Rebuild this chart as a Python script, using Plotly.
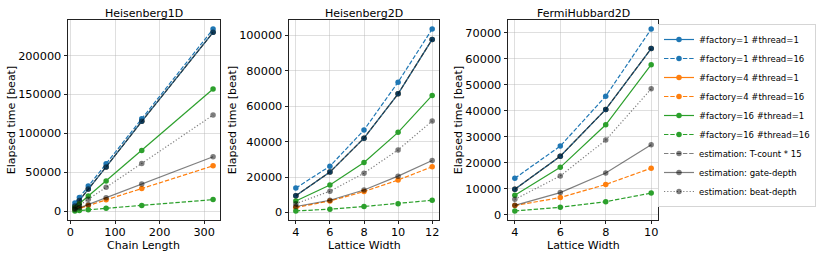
import plotly.graph_objects as go

# ---------------- data ----------------
panel_titles = ["Heisenberg1D", "Heisenberg2D", "FermiHubbard2D"]
x_titles = ["Chain Length", "Lattice Width", "Lattice Width"]

h1d_x = [10, 20, 40, 80, 160, 320]
h1d_f1_t1 = [6800, 13800, 28500, 57000, 115500, 229900]
h1d_f1_t16 = [10500, 17800, 32500, 61000, 118800, 234000]
h1d_f4_t1 = [6800, 13800, 28500, 57000, 115500, 229900]
h1d_f4_t16 = [1900, 3700, 7400, 14700, 29300, 58400]
h1d_f16_t1 = [4900, 9800, 19500, 39000, 78000, 157000]
h1d_f16_t16 = [500, 1000, 1900, 3800, 7600, 15000]
h1d_tcount15 = [6800, 13800, 28500, 57000, 115500, 229900]
h1d_gate = [2200, 4400, 8800, 17500, 35000, 70000]
h1d_beat = [3900, 7700, 15400, 30800, 61500, 123600]

h2d_x = [4, 6, 8, 10, 12]
h2d_f1_t1 = [9500, 22800, 41900, 66900, 97600]
h2d_f1_t16 = [13800, 26100, 46500, 73500, 103400]
h2d_f4_t1 = [9500, 22800, 41900, 66900, 97600]
h2d_f4_t16 = [2800, 6500, 11800, 18300, 25800]
h2d_f16_t1 = [6500, 15500, 28200, 45200, 66000]
h2d_f16_t16 = [900, 1850, 3400, 5000, 6900]
h2d_tcount15 = [9500, 22800, 41900, 66900, 97600]
h2d_gate = [3400, 6900, 12700, 20500, 29300]
h2d_beat = [5000, 12000, 22200, 35300, 51600]

fh_x = [4, 6, 8, 10]
fh_f1_t1 = [9900, 22600, 40600, 64000]
fh_f1_t16 = [14100, 26500, 45700, 71500]
fh_f4_t1 = [9900, 22600, 40600, 64000]
fh_f4_t16 = [3600, 6700, 11700, 18000]
fh_f16_t1 = [7600, 18300, 34700, 57800]
fh_f16_t16 = [1550, 2950, 5100, 8400]
fh_tcount15 = [9900, 22600, 40600, 64000]
fh_gate = [3700, 8600, 16100, 27000]
fh_beat = [6000, 15000, 28800, 48500]

series_names = [
    "#factory=1 #thread=1", "#factory=1 #thread=16",
    "#factory=4 #thread=1", "#factory=4 #thread=16",
    "#factory=16 #thread=1", "#factory=16 #thread=16",
    "estimation: T-count * 15", "estimation: gate-depth", "estimation: beat-depth",
]

panels = [
    (h1d_x, [h1d_f1_t1, h1d_f1_t16, h1d_f4_t1, h1d_f4_t16, h1d_f16_t1, h1d_f16_t16,
             h1d_tcount15, h1d_gate, h1d_beat]),
    (h2d_x, [h2d_f1_t1, h2d_f1_t16, h2d_f4_t1, h2d_f4_t16, h2d_f16_t1, h2d_f16_t16,
             h2d_tcount15, h2d_gate, h2d_beat]),
    (fh_x, [fh_f1_t1, fh_f1_t16, fh_f4_t1, fh_f4_t16, fh_f16_t1, fh_f16_t16,
            fh_tcount15, fh_gate, fh_beat]),
]
x_dticks = [100, 2, 2]
y_dticks = [50000, 20000, 10000]

# ---------------- style ----------------
BLUE, ORANGE, GREEN = "#1f77b4", "#ff7f0e", "#2ca02c"
GRAY = "rgba(0,0,0,0.5)"
LW = 1.2
DASH = "4.4px,1.9px"
DOT = "1.2px,2px"
styles = [
    (BLUE, "solid"), (BLUE, DASH), (ORANGE, "solid"), (ORANGE, DASH),
    (GREEN, "solid"), (GREEN, DASH), (GRAY, DASH), (GRAY, "solid"), (GRAY, DOT),
]
# drawing order: orange solid sits beneath blue solid (hidden, as in the reference)
draw_order = [2, 0, 1, 3, 4, 5, 6, 7, 8]

FONT = "DejaVu Sans"
domains = [(0.0, 0.2576), (0.3746, 0.6288), (0.7458, 1.0)]

fig = go.Figure()
layout = {}
annotations = []
for p, (xs, ys_list) in enumerate(panels):
    ax = "" if p == 0 else str(p + 1)
    for i in draw_order:
        color, dash = styles[i]
        fig.add_trace(go.Scatter(
            x=xs, y=ys_list[i], mode="lines+markers", name=series_names[i],
            line=dict(color=color, width=LW, dash=dash),
            marker=dict(color=color, size=5.5, line=dict(width=0)),
            xaxis="x" + ax, yaxis="y" + ax,
            showlegend=(p == 0), legendrank=i + 1,
        ))
    allv = [v for s in ys_list for v in s]
    ymin, ymax = min(allv), max(allv)
    yr = ymax - ymin
    xr = max(xs) - min(xs)
    common = dict(
        showline=True, mirror=True, linecolor="#222", linewidth=0.9,
        ticks="outside", ticklen=3.5, tickwidth=0.9, tickcolor="#222",
        showgrid=True, gridcolor="rgba(176,176,176,0.4)", gridwidth=0.9,
        zeroline=False, tickfont=dict(family=FONT, size=11.3, color="black"),
        automargin=False,
    )
    layout["xaxis" + ax] = dict(
        common, domain=list(domains[p]), anchor="y" + ax,
        range=[min(xs) - 0.05 * xr, max(xs) + 0.05 * xr], dtick=x_dticks[p], tick0=0,
        ticklabelstandoff=-2,
    )
    layout["yaxis" + ax] = dict(
        common, domain=[0, 1], anchor="x" + ax,
        range=[ymin - 0.05 * yr, ymax + 0.05 * yr], dtick=y_dticks[p], tick0=0, tickformat="d",
        title=dict(text="Elapsed time [beat]", font=dict(family=FONT, size=11, color="black"), standoff=0),
    )
    xc = (domains[p][0] + domains[p][1]) / 2
    annotations.append(dict(
        text=panel_titles[p], x=xc, y=1.0,
        xref="paper", yref="paper", xanchor="center", yanchor="bottom",
        showarrow=False, yshift=-2, font=dict(family=FONT, size=11, color="black"),
    ))
    annotations.append(dict(
        text=x_titles[p], x=xc, y=-0.125,
        xref="paper", yref="paper", xanchor="center", yanchor="middle",
        showarrow=False, font=dict(family=FONT, size=11, color="black"),
    ))

fig.update_layout(
    **layout,
    annotations=annotations,
    width=822, height=257,
    margin=dict(l=68, r=164, t=20, b=37, autoexpand=False),
    paper_bgcolor="white", plot_bgcolor="white",
    font=dict(family=FONT, color="black"),
    legend=dict(
        x=1.0, y=0.98, xanchor="left", yanchor="top",
        bordercolor="#d5d5d5", borderwidth=1, bgcolor="white",
        font=dict(family=FONT, size=8.5, color="black"),
        tracegroupgap=0, itemwidth=30,
    ),
)

fig.write_html("out.html", config={"displayModeBar": False},
               post_script="document.body.style.margin='0';")
